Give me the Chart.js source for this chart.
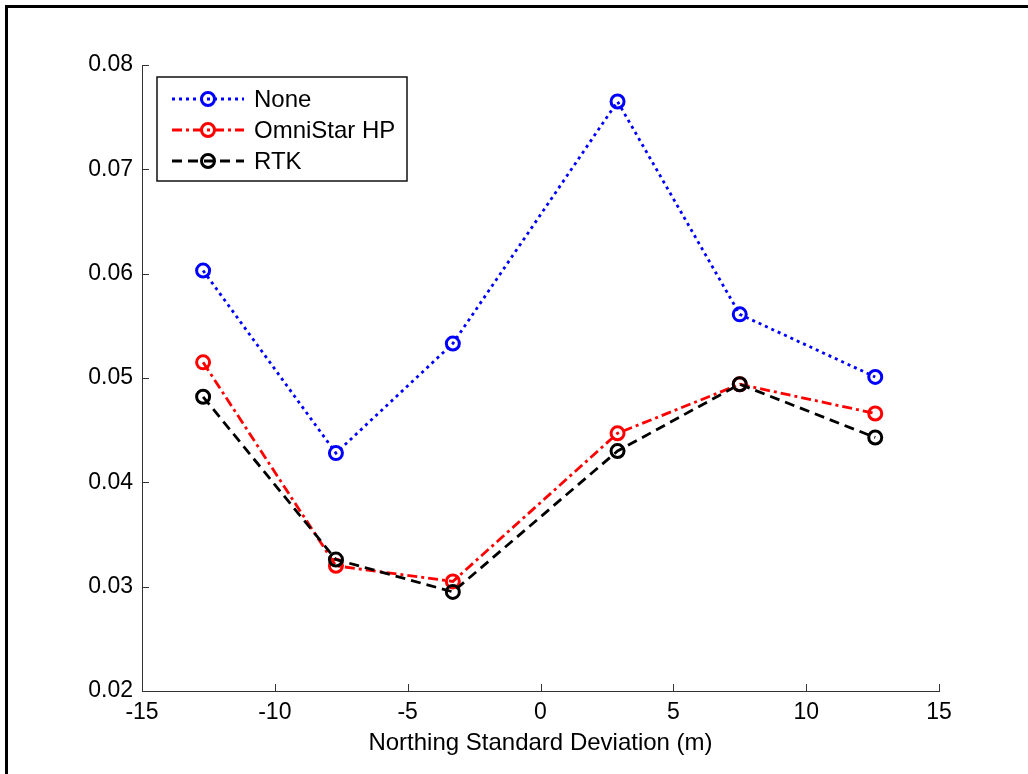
<!DOCTYPE html>
<html>
<head>
<meta charset="utf-8">
<script src="https://cdn.jsdelivr.net/npm/chart.js@4.4.1/dist/chart.umd.min.js"></script>
<style>
  body { margin: 0; background: #fff; }
  #wrap { width: 1028px; height: 774px; }
</style>
</head>
<body>
<div id="wrap"><canvas id="myChart" width="1028" height="774"></canvas></div>
<script>
// values
let xVals = [-12.7, -7.7, -3.3, 2.9, 7.5, 12.6]
let noneVals = [0.0603, 0.0428, 0.0533, 0.0765, 0.0561, 0.0501]
let omniVals = [0.0515, 0.0320, 0.0305, 0.0447, 0.0494, 0.0466]
let rtkVals = [0.0482, 0.0326, 0.0295, 0.0430, 0.0494, 0.0443]
let seriesNames = ['None', 'OmniStar HP', 'RTK']
let xTitle = 'Northing Standard Deviation (m)'

let fontName = '"Liberation Sans", Arial, sans-serif'
let axisColor = '#333333'

function pts(vals) {
    return vals.map((v, i) => ({ x: xVals[i], y: v }))
}

function serie(name, vals, color, dash, order) {
    return {
        label: name,
        data: pts(vals),
        borderColor: color,
        backgroundColor: 'rgba(0,0,0,0)',
        borderWidth: 2.8,
        borderDash: dash,
        pointRadius: 6.5,
        pointBorderWidth: 3,
        pointBorderColor: color,
        pointBackgroundColor: 'rgba(0,0,0,0)',
        tension: 0,
        order: order
    }
}

// frame, inward tick marks and legend drawn on the canvas
const extras = {
    id: 'extras',
    afterDraw(chart) {
        const c = chart.ctx
        const area = chart.chartArea
        c.save()
        c.fillStyle = '#000'
        c.fillRect(5, 5, 1100, 3)
        c.fillRect(5, 5, 3, 900)

        c.strokeStyle = axisColor
        c.lineWidth = 1
        const xs = chart.scales.x
        xs.ticks.forEach(t => {
            let px = Math.round(xs.getPixelForValue(t.value)) + 0.5
            c.beginPath()
            c.moveTo(px, area.bottom)
            c.lineTo(px, area.bottom - 7)
            c.stroke()
        })
        const ys = chart.scales.y
        ys.ticks.forEach(t => {
            let py = Math.round(ys.getPixelForValue(t.value)) + 0.5
            c.beginPath()
            c.moveTo(area.left, py)
            c.lineTo(area.left + 7, py)
            c.stroke()
        })

        // legend
        let bx = 157, by = 77, bw = 250, bh = 104
        c.fillStyle = '#fff'
        c.fillRect(bx, by, bw, bh)
        c.strokeStyle = '#111'
        c.lineWidth = 1.5
        c.strokeRect(bx, by, bw, bh)
        chart.data.datasets.forEach((ds, i) => {
            let yy = 99 + i * 31
            c.strokeStyle = ds.borderColor
            c.lineWidth = ds.borderWidth
            c.setLineDash(ds.borderDash)
            c.beginPath()
            c.moveTo(172, yy)
            c.lineTo(244, yy)
            c.stroke()
            c.setLineDash([])
            c.lineWidth = ds.pointBorderWidth
            c.beginPath()
            c.arc(208, yy, ds.pointRadius, 0, Math.PI * 2)
            c.stroke()
            c.fillStyle = '#000'
            c.font = '24px ' + fontName
            c.textBaseline = 'middle'
            c.textAlign = 'left'
            c.fillText(ds.label, 254, yy + 1)
        })
        c.restore()
    }
}

const ctx = document.getElementById('myChart').getContext('2d')
let myChart = new Chart(ctx, {
    type: 'line',
    data: {
        datasets: [
            serie(seriesNames[0], noneVals, '#0000ff', [3, 4], 3),
            serie(seriesNames[1], omniVals, '#ff0000', [10, 4, 3, 4], 2),
            serie(seriesNames[2], rtkVals, '#000000', [10, 6], 1)
        ]
    },
    options: {
        responsive: false,
        animation: false,
        devicePixelRatio: 1,
        layout: { padding: { left: 0, top: 65, right: 89, bottom: 0 } },
        plugins: {
            legend: { display: false },
            tooltip: { enabled: false }
        },
        scales: {
            x: {
                type: 'linear',
                min: -15,
                max: 15,
                grid: { display: false, drawTicks: false },
                border: { display: true, color: axisColor, width: 1 },
                ticks: {
                    stepSize: 5,
                    padding: 8,
                    color: '#000',
                    font: { family: fontName, size: 23 },
                    maxRotation: 0
                },
                title: {
                    display: true,
                    text: xTitle,
                    color: '#000',
                    font: { family: fontName, size: 24 },
                    padding: { top: 0, bottom: 16 }
                },
                afterFit(scale) { scale.height = 83 }
            },
            y: {
                min: 0.02,
                max: 0.08,
                grid: { display: false, drawTicks: false },
                border: { display: true, color: axisColor, width: 1 },
                ticks: {
                    stepSize: 0.01,
                    padding: 9,
                    color: '#000',
                    font: { family: fontName, size: 23 },
                    callback: function(v) { return v.toFixed(2) }
                },
                afterFit(scale) { scale.width = 142 }
            }
        }
    },
    plugins: [extras]
})
</script>
</body>
</html>
